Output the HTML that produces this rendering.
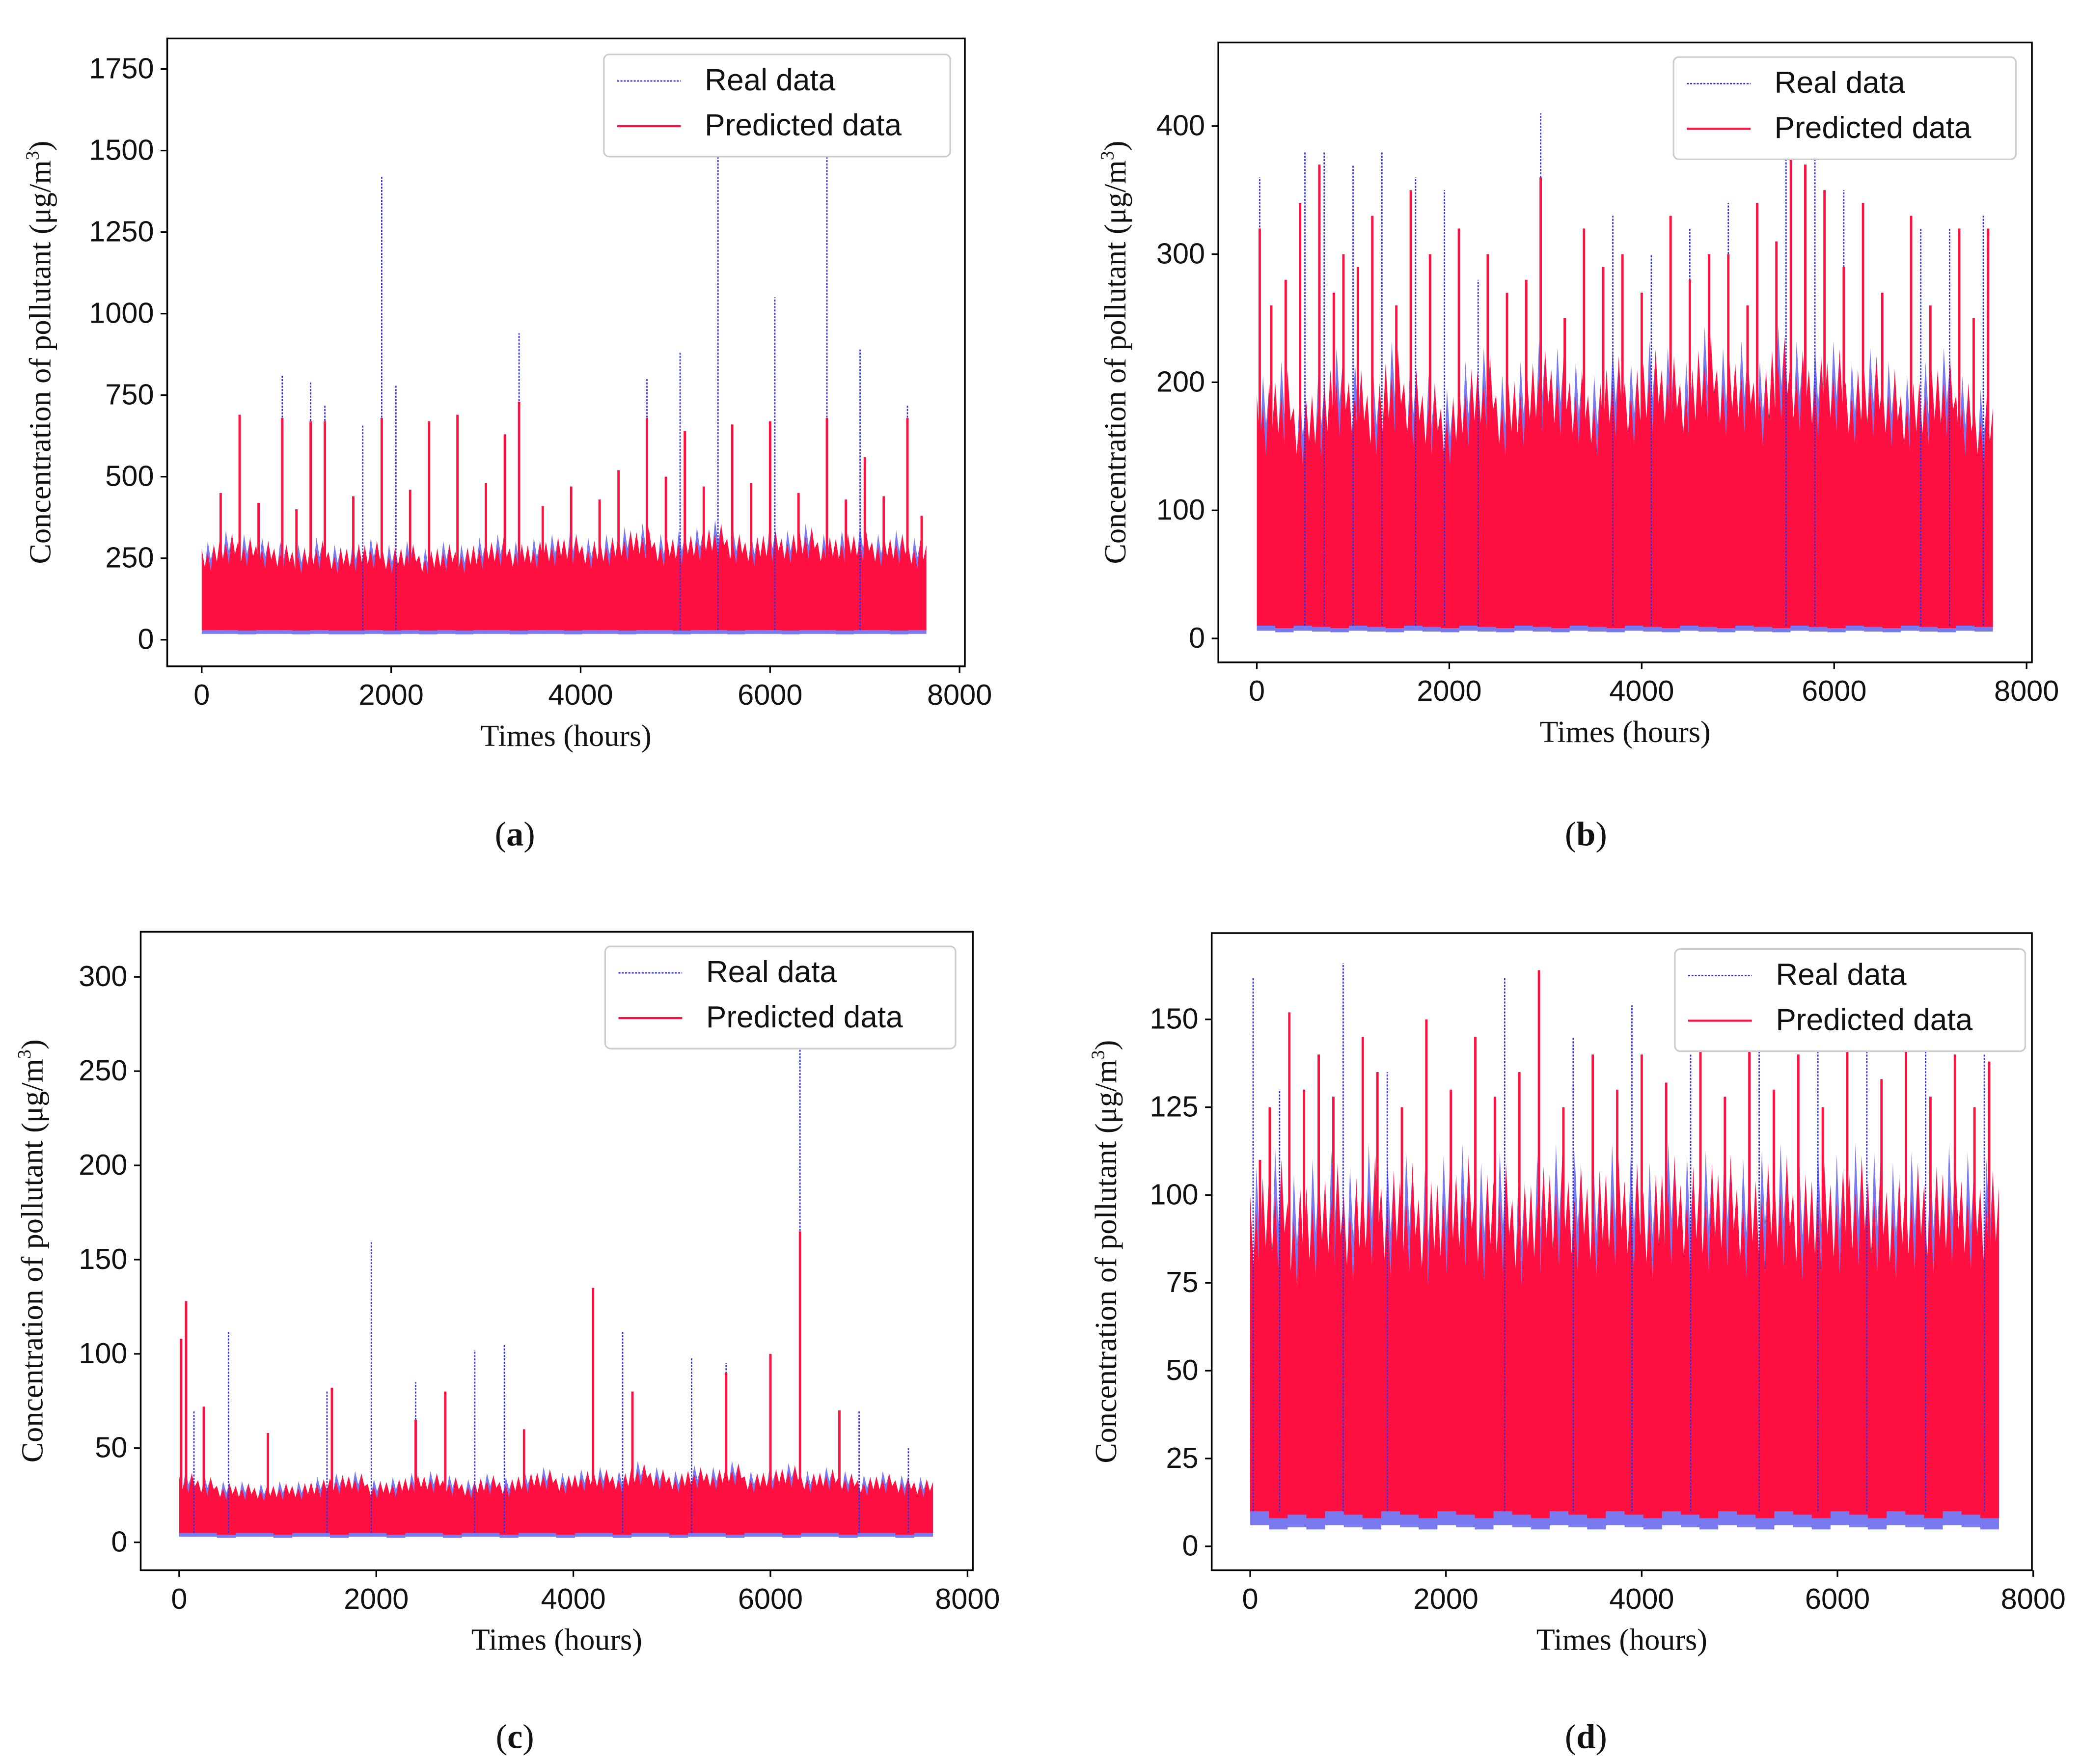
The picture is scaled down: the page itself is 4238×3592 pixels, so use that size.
<!DOCTYPE html>
<html><head><meta charset="utf-8"><style>
html,body{margin:0;padding:0;background:#fff;}
svg{display:block;}
.tk{font-family:"Liberation Sans",sans-serif;font-size:22px;fill:#111;}
.ax{font-family:"Liberation Serif",serif;font-size:23px;fill:#111;}
.lg{font-family:"Liberation Sans",sans-serif;font-size:23px;fill:#111;}
.pl{font-family:"Liberation Serif",serif;font-size:26px;fill:#111;}
</style></head><body>
<svg id="root" width="4238" height="3592" viewBox="0 0 1568 1329" preserveAspectRatio="none" xmlns="http://www.w3.org/2000/svg"></svg>
<script>
// ---- Panel (a) data ----
const aTop=[280,310,300,290,280,270,290,270,280,290,270,280,260,280,270,290,300,280,290,300,310,290,300,320,330,300,310,320,340,310,300,320,310,330,300,310,320,300,310,290];
const aLow=[30,30,28,30,30,28,30,28,28,30,28,30,28,30,28,30,30,28,30,30,28,30,30,28,30,30,28,30,30,28,30,30,28,30,30,28,30,30,28,30];
const aRealT=[850,1150,1300,1900,2050,3350,4700,5050,5450,6050,6600,6950,7450,1700,2700];
const aRealV=[810,790,720,1420,780,940,800,880,1700,1050,1700,890,720,660,690];
const aPredT=[400,850,1150,1300,1900,2400,3350,4700,5100,6000,6600,7450,3200,5600,7000,200,2700,3900,4400,600,1000,1600,2200,3000,3600,4200,4900,5300,5800,6300,6800,7200,7600];
const aPredV=[690,680,670,670,680,670,730,680,640,670,680,680,630,660,560,450,690,470,520,420,400,440,460,480,410,430,500,470,480,450,430,440,380];
// ---- Panel (b) data ----
const bTop=[190,200,180,190,210,200,190,215,200,190,180,200,210,190,200,215,210,200,190,210,200,215,210,200,225,210,215,200,225,215,210,215,200,210,200,190,200,210,190,180];
const bLow=[10,8,10,9,8,10,9,8,10,9,8,10,9,8,10,9,8,10,9,8,10,9,8,10,9,8,10,9,8,10,9,8,10,9,8,10,9,8,10,9];
const bRealT=[30,500,700,1000,1300,1650,1950,2300,2950,3700,4100,4500,4900,5500,5800,6100,6900,7200,7550];
const bRealV=[360,380,380,370,380,360,350,280,410,330,300,320,340,390,380,350,320,320,330];
const bPredT=[30,450,650,900,1200,1600,2100,2400,2950,3400,3800,4300,4700,5200,5550,5700,5900,6300,6800,7300,7600,150,300,800,1050,1450,1800,2600,2800,3200,3600,4000,4500,4900,5100,5400,6100,6500,7000,7450];
const bPredV=[320,340,370,300,330,350,320,300,360,320,300,330,300,340,430,370,350,340,330,320,320,260,280,270,290,260,300,270,280,250,290,270,280,300,260,310,290,270,260,250];
// ---- Panel (c) data ----
const cTop=[35,33,30,30,29,30,30,32,34,35,31,32,34,35,33,31,34,32,35,37,34,36,37,35,40,37,35,38,37,40,35,37,39,35,37,35,33,35,33,32];
const cLow=[5,5,4,5,5,4,5,5,4,5,5,4,5,5,4,5,5,4,5,5,4,5,5,4,5,5,4,5,5,4,5,5,4,5,5,4,5,5,4,5];
const cRealT=[150,500,1500,1950,2400,3000,3300,4500,5200,5550,6300,6900,7400];
const cRealV=[70,112,80,160,85,102,105,112,98,95,275,70,50];
const cPredT=[20,70,250,900,1550,2400,2700,3500,4200,4600,5550,6000,6300,6700];
const cPredV=[108,128,72,58,82,65,80,60,135,80,90,100,165,70];
// ---- Panel (d) data ----
const dTop=[100,105,98,102,104,100,106,102,104,99,103,106,101,104,99,103,106,104,102,106,104,101,106,103,104,106,102,104,106,101,104,103,106,104,101,104,103,106,104,102];
const dLow=[10,8,9,8,10,9,8,10,9,8,10,9,8,10,9,8,10,9,8,10,9,8,10,9,8,10,9,8,10,9,8,10,9,8,10,9,8,10,9,8];
const dRealT=[30,300,950,1400,2600,2950,3300,3900,4500,5200,5800,6300,6900,7500];
const dRealV=[162,130,166,135,162,160,145,154,140,145,150,145,150,140];
const dPredT=[100,400,700,1150,1800,2300,2950,3500,4000,4600,5100,5600,6100,6700,7200,7550,200,550,850,1300,1550,2050,2500,2750,3200,3750,4250,4850,5350,5850,6450,6950,7400];
const dPredV=[110,152,140,145,150,145,164,140,140,150,145,140,155,145,140,138,125,130,128,135,125,130,128,135,125,130,132,128,130,125,133,128,125];

const NS="http://www.w3.org/2000/svg";
const root=document.getElementById('root');
function mk(tag,attrs,parent){const e=document.createElementNS(NS,tag);for(const k in attrs)e.setAttribute(k,attrs[k]);(parent||root).appendChild(e);return e;}

function panel(p){
  const g=mk('g',{});
  
  
  const xs=t=>p.x0+t*(p.x8-p.x0)/8000;
  const ys=v=>p.y0-v*(p.y0-p.yT)/p.yTv;
  const clipId='clip'+p.id;
  const cp=mk('clipPath',{id:clipId},g);
  mk('rect',{x:p.bx,y:p.by,width:p.bw,height:p.bh},cp);
  const plot=mk('g',{'clip-path':'url(#'+clipId+')'},g);
  
  
  const n=p.top.length, step=7650/n, sub=[1,0.8,0.95,0.75,1.05,0.85];
  let pts=[];
  for(let i=0;i<n;i++){for(let k=0;k<6;k++)pts.push(xs((i+k/6)*step)+','+ys(p.top[i]*sub[(k+2)%6]*1.03));}
  pts.push(xs(n*step)+','+ys(p.top[n-1]));
  for(let i=n-1;i>=0;i--){pts.push(xs((i+1)*step)+','+ys(p.low[i]*0.6));pts.push(xs(i*step)+','+ys(p.low[i]*0.6));}
  const bb=mk('polygon',{points:pts.join(' '),fill:'#7a7af0'},plot);
  
  
  pts=[];
  for(let i=0;i<n;i++){for(let k=0;k<6;k++)pts.push(xs((i+k/6)*step)+','+ys(p.top[i]*sub[k]));}
  pts.push(xs(n*step)+','+ys(p.top[n-1]));
  for(let i=n-1;i>=0;i--){pts.push(xs((i+1)*step)+','+ys(p.low[i]));pts.push(xs(i*step)+','+ys(p.low[i]));}
  const rb=mk('polygon',{points:pts.join(' '),fill:'#ff1040'},plot);
  
  
  p.rT.forEach((t,i)=>{
    const l=mk('line',{x1:xs(t),x2:xs(t),y1:ys(p.low[0]),y2:ys(p.rV[i]),stroke:'#3030e0','stroke-width':1,'stroke-dasharray':'1.5,1'},plot);
    
    
  });
  p.pT.forEach((t,i)=>{
    const l=mk('line',{x1:xs(t),x2:xs(t),y1:ys(p.low[0]),y2:ys(p.pV[i]),stroke:'#ff1040','stroke-width':1.8},plot);
    
    
  });
  const fr=mk('rect',{x:p.bx,y:p.by,width:p.bw,height:p.bh,fill:'none',stroke:'#000','stroke-width':1.3},g);
  
  
  p.yt.forEach(v=>{
    const y=ys(v);
    mk('line',{x1:p.bx-5,x2:p.bx,y1:y,y2:y,stroke:'#000','stroke-width':1.2},g);
    const t=mk('text',{x:p.bx-10,y:y+7,'text-anchor':'end',class:'tk'},g);t.textContent=v;
    
    
  });
  [0,2000,4000,6000,8000].forEach(v=>{
    const x=xs(v);
    mk('line',{x1:x,x2:x,y1:p.by+p.bh,y2:p.by+p.bh+5,stroke:'#000','stroke-width':1.2},g);
    const t=mk('text',{x:x,y:p.by+p.bh+29,'text-anchor':'middle',class:'tk'},g);t.textContent=v;
    
    
  });
  const xl=mk('text',{x:p.bx+p.bw/2,y:p.by+p.bh+60,'text-anchor':'middle',class:'ax'},g);xl.textContent='Times (hours)';
  
  
  const cy=p.by+p.bh/2;
  const yl=mk('text',{x:p.ylx,y:cy,'text-anchor':'middle',class:'ax',transform:'rotate(-90 '+p.ylx+' '+cy+')'},g);
  yl.innerHTML='Concentration of pollutant (μg/m<tspan font-size="14" dy="-9">3</tspan><tspan dy="9">)</tspan>';
  
  
  const lg=mk('g',{},g);
  
  
  mk('rect',{x:p.lx,y:p.ly,width:p.lw,height:77,rx:4,fill:'#fff',stroke:'#ccc','stroke-width':1.2},lg);
  mk('line',{x1:p.lx+10,x2:p.lx+58,y1:p.ly+20,y2:p.ly+20,stroke:'#3030e0','stroke-width':1,'stroke-dasharray':'1.5,1'},lg);
  mk('line',{x1:p.lx+10,x2:p.lx+58,y1:p.ly+54,y2:p.ly+54,stroke:'#ff1040','stroke-width':1.5},lg);
  const t1=mk('text',{x:p.lx+76,y:p.ly+27,class:'lg'},lg);t1.textContent='Real data';
  
  
  const t2=mk('text',{x:p.lx+76,y:p.ly+61,class:'lg'},lg);t2.textContent='Predicted data';
  
  
  const pl=mk('text',{x:p.plx,y:p.ply,'text-anchor':'middle',class:'pl'},g);
  pl.innerHTML='(<tspan font-weight="bold">'+p.id+'</tspan>)';
  
  
}
panel({id:'a',bx:126,by:29,bw:601,bh:473,x0:152,x8:723,y0:482,yT:52,yTv:1750,yt:[0,250,500,750,1000,1250,1500,1750],
  top:aTop,low:aLow,rT:aRealT,rV:aRealV,pT:aPredT,pV:aPredV,lx:455,ly:41,lw:261,ylx:38,plx:388,ply:637});
panel({id:'b',bx:918,by:32,bw:613,bh:467,x0:947,x8:1527,y0:481,yT:95,yTv:400,yt:[0,100,200,300,400],
  top:bTop,low:bLow,rT:bRealT,rV:bRealV,pT:bPredT,pV:bPredV,lx:1261,ly:43,lw:258,ylx:848,plx:1195,ply:637});
panel({id:'c',bx:106,by:702,bw:627,bh:481,x0:135,x8:729,y0:1162,yT:736,yTv:300,yt:[0,50,100,150,200,250,300],
  top:cTop,low:cLow,rT:cRealT,rV:cRealV,pT:cPredT,pV:cPredV,lx:456,ly:713,lw:264,ylx:32,plx:388,ply:1317});
panel({id:'d',bx:913,by:703,bw:618,bh:480,x0:942,x8:1532,y0:1165,yT:768,yTv:150,yt:[0,25,50,75,100,125,150],
  top:dTop,low:dLow,rT:dRealT,rV:dRealV,pT:dPredT,pV:dPredV,lx:1262,ly:715,lw:264,ylx:841,plx:1195,ply:1317});
</script>
</body></html>
